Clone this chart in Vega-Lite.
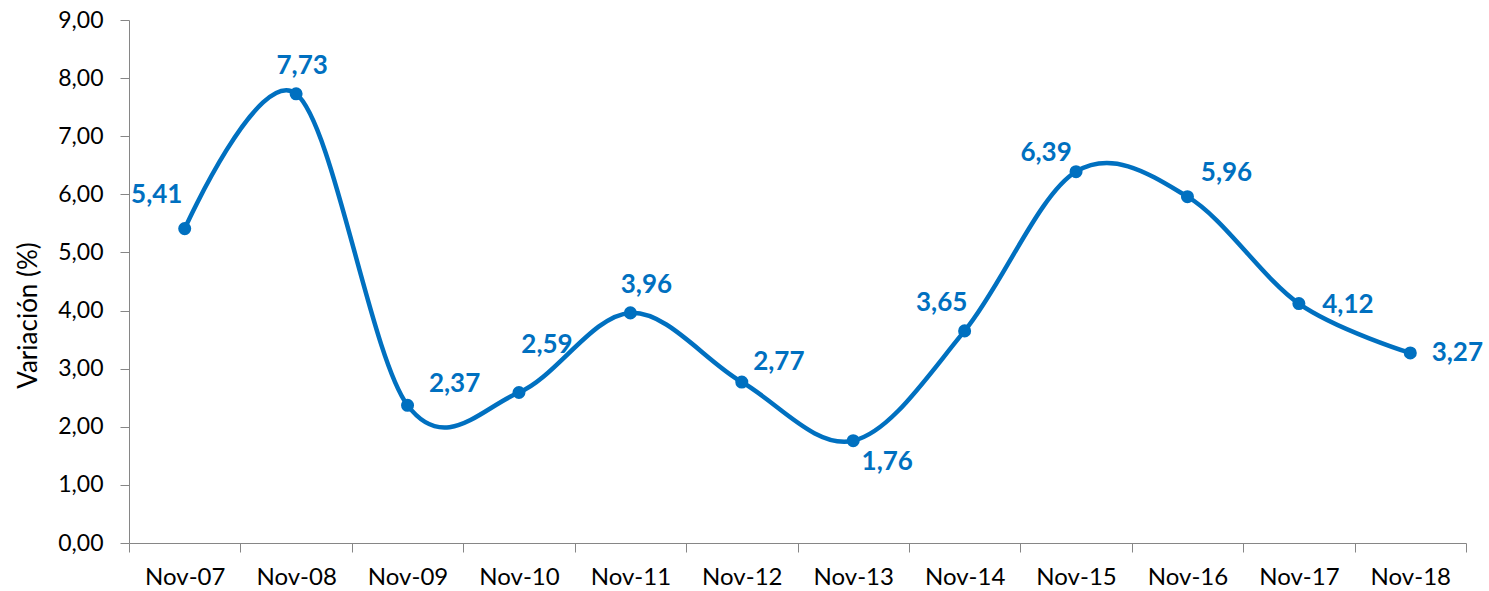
{
  "$schema": "https://vega.github.io/schema/vega-lite/v6.json",
  "width": 1337,
  "height": 523,
  "autosize": {"type": "none"},
  "padding": {"left": 129, "top": 20, "right": 23, "bottom": 48},
  "background": "white",
  "config": {
    "locale": {"number": {"decimal": ",", "thousands": ".", "grouping": [3], "currency": ["", " €"]}},
    "font": "Lato",
    "view": {"stroke": null}
  },
  "data": {
    "values": [
      {"mes": "Nov-07", "variacion": 5.41},
      {"mes": "Nov-08", "variacion": 7.73},
      {"mes": "Nov-09", "variacion": 2.37},
      {"mes": "Nov-10", "variacion": 2.59},
      {"mes": "Nov-11", "variacion": 3.96},
      {"mes": "Nov-12", "variacion": 2.77},
      {"mes": "Nov-13", "variacion": 1.76},
      {"mes": "Nov-14", "variacion": 3.65},
      {"mes": "Nov-15", "variacion": 6.39},
      {"mes": "Nov-16", "variacion": 5.96},
      {"mes": "Nov-17", "variacion": 4.12},
      {"mes": "Nov-18", "variacion": 3.27}
    ]
  },
  "encoding": {
    "x": {
      "field": "mes", "type": "ordinal", "sort": null, "bandPosition": 0.5,
      "scale": {"type": "band", "paddingInner": 0, "paddingOuter": 0},
      "axis": {
        "title": null, "labelAngle": 0, "tickBand": "extent",
        "domainColor": "#868686", "tickColor": "#868686", "tickSize": 9,
        "labelFont": "Lato", "labelFontSize": 24, "labelColor": "#000000",
        "labelPadding": 13, "labelBaseline": "top", "grid": false
      }
    },
    "y": {
      "field": "variacion", "type": "quantitative",
      "scale": {"domain": [0, 9], "nice": false},
      "axis": {
        "values": [0, 1, 2, 3, 4, 5, 6, 7, 8, 9], "format": ".2f", "grid": false,
        "domainColor": "#868686", "tickColor": "#868686", "tickSize": 9,
        "labelFont": "Lato", "labelFontSize": 23, "labelColor": "#000000", "labelPadding": 17,
        "title": "Variación (%)", "titleFont": "Lato", "titleFontSize": 26, "titleFontWeight": "normal",
        "titleColor": "#000000", "titleAngle": -90, "titleX": -101, "titleY": 295,
        "titleAlign": "center", "titleBaseline": "middle"
      }
    }
  },
  "layer": [
    {"mark": {"type": "line", "interpolate": "cardinal", "color": "#0070C0", "strokeWidth": 4.5}},
    {"mark": {"type": "point", "filled": true, "opacity": 1, "color": "#0070C0", "size": 170}},
    {
      "transform": [{"filter": {"field": "mes", "equal": "Nov-07"}}],
      "mark": {"type": "text", "color": "#0070C0", "fontWeight": "bold", "fontSize": 26, "align": "center", "baseline": "middle", "dx": -28, "dy": -34},
      "encoding": {"text": {"field": "variacion", "type": "quantitative", "format": ".2f"}}
    },
    {
      "transform": [{"filter": {"field": "mes", "equal": "Nov-08"}}],
      "mark": {"type": "text", "color": "#0070C0", "fontWeight": "bold", "fontSize": 26, "align": "center", "baseline": "middle", "dx": 6, "dy": -28},
      "encoding": {"text": {"field": "variacion", "type": "quantitative", "format": ".2f"}}
    },
    {
      "transform": [{"filter": {"field": "mes", "equal": "Nov-09"}}],
      "mark": {"type": "text", "color": "#0070C0", "fontWeight": "bold", "fontSize": 26, "align": "center", "baseline": "middle", "dx": 47, "dy": -21},
      "encoding": {"text": {"field": "variacion", "type": "quantitative", "format": ".2f"}}
    },
    {
      "transform": [{"filter": {"field": "mes", "equal": "Nov-10"}}],
      "mark": {"type": "text", "color": "#0070C0", "fontWeight": "bold", "fontSize": 26, "align": "center", "baseline": "middle", "dx": 28, "dy": -47},
      "encoding": {"text": {"field": "variacion", "type": "quantitative", "format": ".2f"}}
    },
    {
      "transform": [{"filter": {"field": "mes", "equal": "Nov-11"}}],
      "mark": {"type": "text", "color": "#0070C0", "fontWeight": "bold", "fontSize": 26, "align": "center", "baseline": "middle", "dx": 16, "dy": -28},
      "encoding": {"text": {"field": "variacion", "type": "quantitative", "format": ".2f"}}
    },
    {
      "transform": [{"filter": {"field": "mes", "equal": "Nov-12"}}],
      "mark": {"type": "text", "color": "#0070C0", "fontWeight": "bold", "fontSize": 26, "align": "center", "baseline": "middle", "dx": 37, "dy": -20},
      "encoding": {"text": {"field": "variacion", "type": "quantitative", "format": ".2f"}}
    },
    {
      "transform": [{"filter": {"field": "mes", "equal": "Nov-13"}}],
      "mark": {"type": "text", "color": "#0070C0", "fontWeight": "bold", "fontSize": 26, "align": "center", "baseline": "middle", "dx": 34, "dy": 21},
      "encoding": {"text": {"field": "variacion", "type": "quantitative", "format": ".2f"}}
    },
    {
      "transform": [{"filter": {"field": "mes", "equal": "Nov-14"}}],
      "mark": {"type": "text", "color": "#0070C0", "fontWeight": "bold", "fontSize": 26, "align": "center", "baseline": "middle", "dx": -23, "dy": -28},
      "encoding": {"text": {"field": "variacion", "type": "quantitative", "format": ".2f"}}
    },
    {
      "transform": [{"filter": {"field": "mes", "equal": "Nov-15"}}],
      "mark": {"type": "text", "color": "#0070C0", "fontWeight": "bold", "fontSize": 26, "align": "center", "baseline": "middle", "dx": -30, "dy": -19},
      "encoding": {"text": {"field": "variacion", "type": "quantitative", "format": ".2f"}}
    },
    {
      "transform": [{"filter": {"field": "mes", "equal": "Nov-16"}}],
      "mark": {"type": "text", "color": "#0070C0", "fontWeight": "bold", "fontSize": 26, "align": "center", "baseline": "middle", "dx": 39, "dy": -24},
      "encoding": {"text": {"field": "variacion", "type": "quantitative", "format": ".2f"}}
    },
    {
      "transform": [{"filter": {"field": "mes", "equal": "Nov-17"}}],
      "mark": {"type": "text", "color": "#0070C0", "fontWeight": "bold", "fontSize": 26, "align": "center", "baseline": "middle", "dx": 49, "dy": 1},
      "encoding": {"text": {"field": "variacion", "type": "quantitative", "format": ".2f"}}
    },
    {
      "transform": [{"filter": {"field": "mes", "equal": "Nov-18"}}],
      "mark": {"type": "text", "color": "#0070C0", "fontWeight": "bold", "fontSize": 26, "align": "center", "baseline": "middle", "dx": 47, "dy": 0},
      "encoding": {"text": {"field": "variacion", "type": "quantitative", "format": ".2f"}}
    }
  ]
}
